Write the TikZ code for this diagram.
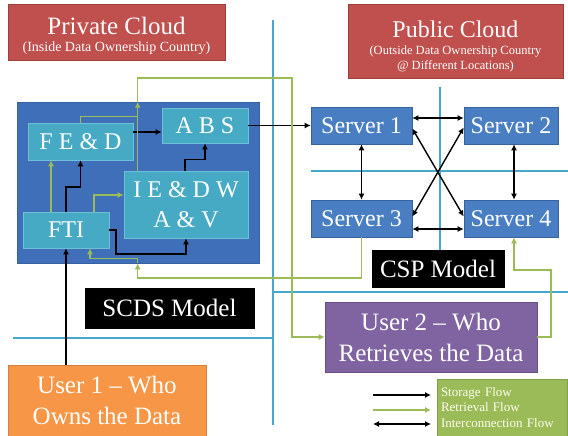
\documentclass[tikz,border=0pt]{standalone}
\usepackage{fontspec}
\setmainfont{Liberation Serif}
\usetikzlibrary{arrows.meta,calc}

\definecolor{cloudred}{HTML}{C0504D}
\definecolor{cloudredline}{HTML}{9E3F3C}
\definecolor{scdsblue}{HTML}{3F6FB9}
\definecolor{srvblue}{HTML}{4A7EC2}
\definecolor{blueline}{HTML}{37629F}
\definecolor{modcyan}{HTML}{47AAC5}
\definecolor{modcyanline}{HTML}{6DC0D6}
\definecolor{userpurple}{HTML}{8064A2}
\definecolor{userorange}{HTML}{F79646}
\definecolor{flowgreen}{HTML}{9BBB59}
\definecolor{divider}{HTML}{45A8CA}

\begin{document}
\begin{tikzpicture}[x=1pt,y=-1pt,
  box/.style={draw, line width=0.6pt, inner sep=0pt, align=center, text=white},
  redbox/.style={box, fill=cloudred, draw=cloudredline},
  srvbox/.style={box, fill=srvblue, draw=blueline, minimum height=37pt,
    font=\fontsize{24}{28}\selectfont},
  modbox/.style={box, fill=modcyan, draw=modcyanline,
    font=\fontsize{24}{30}\selectfont},
  blackbox/.style={box, fill=black, draw=black, font=\fontsize{25}{28}\selectfont},
  userbox/.style={box, font=\fontsize{25}{31}\selectfont},
  store/.style={draw=black, line width=1.4pt, -{Latex[length=6pt,width=6pt]}},
  retr/.style={draw=flowgreen, line width=1.4pt, -{Latex[length=6pt,width=6pt]}},
  inter/.style={draw=black, line width=1.4pt, {Latex[length=6pt,width=6pt]}-{Latex[length=6pt,width=6pt]}},
  sep/.style={draw=divider, line width=1.3pt}
]
\useasboundingbox (0,0) rectangle (568,436);

% separating lines
\draw[sep] (273,20) -- (273,425);
\draw[sep] (13,338) -- (273,338);
\draw[sep] (273,292) -- (568,292);
\draw[sep] (440,87) -- (440,250);
\draw[sep] (311,171) -- (568,171);

% cloud titles
\node[redbox, minimum width=217pt, minimum height=56pt, font=\fontsize{14}{16}\selectfont] (privc) at (116.5,32)
  {\rule{0pt}{25pt}{\fontsize{25}{27}\selectfont Private Cloud}\\[1pt](Inside Data Ownership Country)};
\node[redbox, minimum width=215pt, minimum height=74pt, font=\fontsize{12.5}{14.5}\selectfont] (pubc) at (455.5,41)
  {\rule{0pt}{27pt}{\fontsize{24}{26}\selectfont Public Cloud}\\[3pt](Outside Data Ownership Country\\@ Different Locations)};

% SCDS model
\node[box, fill=scdsblue, draw=blueline, minimum width=242pt, minimum height=161pt] (scds) at (138,182.5) {};
\node[modbox, minimum width=105pt, minimum height=37pt] (fed) at (80.5,141.5) {F E \& D};
\node[modbox, minimum width=86pt, minimum height=35pt] (abs) at (205,125.5) {A B S};
\node[modbox, minimum width=124pt, minimum height=67pt] (iedw) at (186,204.5) {I E \& D W\\A \& V};
\node[modbox, minimum width=86pt, minimum height=36pt] (fti) at (66,230) {FTI};
\node[blackbox, minimum width=169pt, minimum height=40pt] (scdslabel) at (169.5,308) {SCDS Model};

% CSP model
\node[srvbox, minimum width=101pt] (s1) at (361.5,125.5) {Server 1};
\node[srvbox, minimum width=94pt] (s2) at (511,125.5) {Server 2};
\node[srvbox, minimum width=101pt] (s3) at (361.5,218.5) {Server 3};
\node[srvbox, minimum width=94pt] (s4) at (511,218.5) {Server 4};
\node[blackbox, minimum width=132pt, minimum height=37pt] (csplabel) at (438,268.5) {CSP Model};

% users
\node[userbox, fill=userpurple, draw=userpurple!80!black, minimum width=212pt, minimum height=70pt] (user2) at (431,337)
  {User 2 -- Who\\Retrieves the Data};
\node[userbox, fill=userorange, draw=userorange!85!black, minimum width=198pt, minimum height=71pt] (user1) at (107,400.5)
  {User 1 -- Who\\Owns the Data};

% legend
\node[box, fill=flowgreen, draw=flowgreen!85!black, minimum width=130pt, minimum height=57pt,
  text width=122pt, inner xsep=4pt, align=left, text=white!92!yellow,
  font=\fontsize{13}{15.5}\selectfont] (legend) at (502,407.5)
  {Storage Flow\\Retrieval Flow\\Interconnection Flow};
\coordinate (lgA1) at (373,395);  \coordinate (lgA2) at (431,395);
\coordinate (lgB1) at (373,410);  \coordinate (lgB2) at (431,410);
\coordinate (lgC1) at (373,424);  \coordinate (lgC2) at (431,424);
\draw[store] (lgA1) -- (lgA2);
\draw[retr] (lgB1) -- (lgB2);
\draw[inter] (lgC1) -- (lgC2);

% storage flow
\draw[store] (user1.north -| fti.south) -- (fti.south);
\draw[store] (fti.north) -- (fti.north |- 0,187) -| (fed.south);
\draw[store] (fti.east) -- (116,230) -- (116,254) -| (iedw.south);
\draw[store] ([xshift=-1pt]iedw.north) -- ++(0,-11) -| (abs.south);
\draw[store] ([yshift=9.5pt]fed.east) -- ([yshift=9.5pt]fed.east -| abs.west);
\draw[store] (abs.east) -- (s1.west);

% retrieval flow
\coordinate (gup) at ([xshift=14pt]iedw.north west);
\draw[retr] ([xshift=-15pt]fti.north) -- ([xshift=-15pt]fti.north |- fed.south);
\draw[retr] ([xshift=28pt]fti.north) |- ([yshift=9.5pt]iedw.west);
\draw[retr] (gup) -- (gup |- scds.north);
\draw[retr, -] (fed.north) -- ++(0,-6) -| (gup);
\draw[retr] (gup |- scds.north) -- (gup |- 0,78) -- (292,78) |- (user2.west);
\draw[retr] (s3.south) |- (gup |- 0,278) -- (gup |- scds.south);
\draw[retr] (gup |- scds.south) -- ++(0,-5) -| ([xshift=24pt]fti.south);
\draw[retr] (user2.east) -| (551,270) -| ([xshift=3pt]s4.south);

% interconnection between servers
\draw[inter] ([yshift=7.5pt]s1.east) -- ([yshift=7.5pt]s2.west);
\draw[inter] ([yshift=-10.5pt]s3.east) -- ([yshift=-10.5pt]s4.west);
\draw[inter] (s1.south) -- (s3.north);
\draw[inter] ([xshift=3pt]s2.south) -- ([xshift=3pt]s4.north);
\draw[inter] ([yshift=-3pt]s1.east) -- ([yshift=2pt]s4.west);
\draw[inter] ([yshift=-2pt]s2.west) -- ([yshift=2pt]s3.east);
\end{tikzpicture}
\end{document}
